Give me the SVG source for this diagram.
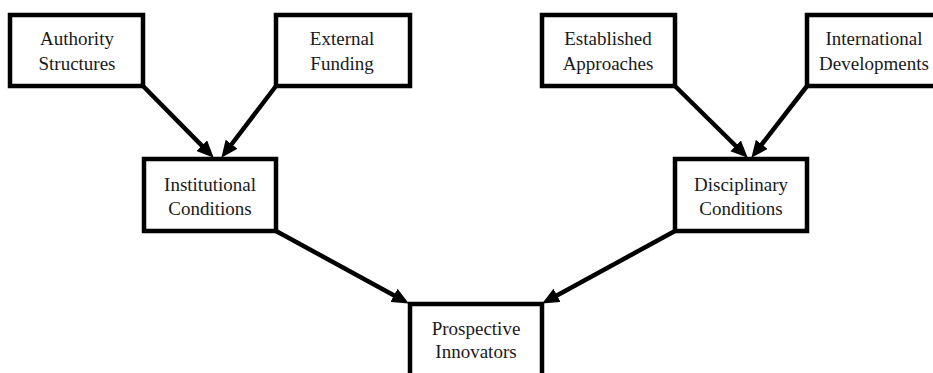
<svg xmlns="http://www.w3.org/2000/svg" width="933" height="373" viewBox="0 0 933 373">
<style>
.box{fill:#fff;stroke:#000;stroke-width:4.5}
.lbl{font-family:"Liberation Serif","Times New Roman",serif;font-size:19px;fill:#1a1a1a;text-anchor:middle}
.edge{stroke:#000;stroke-width:4.5;fill:none;marker-end:url(#ah)}
</style>
<defs>
<marker id="ah" markerUnits="userSpaceOnUse" markerWidth="18" markerHeight="16" refX="6" refY="7.5" orient="auto">
<path d="M0,0 L17,7.5 L0,15 z" fill="#000"/>
</marker>
</defs>
<rect width="933" height="373" fill="#fff"/>
<g id="connectors">
<line class="edge" x1="143" y1="86" x2="206" y2="149.9"/>
<line class="edge" x1="276" y1="86" x2="228" y2="149"/>
<line class="edge" x1="675" y1="86" x2="739.9" y2="150"/>
<line class="edge" x1="807" y1="86" x2="758.1" y2="149.1"/>
<line class="edge" x1="276" y1="231" x2="399.2" y2="298.2"/>
<line class="edge" x1="675" y1="231" x2="551.8" y2="298.2"/>
</g>
<g id="authority">
<rect class="box" x="10" y="15" width="133" height="71"/>
<text class="lbl" x="77" y="45">Authority</text>
<text class="lbl" x="77" y="70">Structures</text>
</g>
<g id="funding">
<rect class="box" x="276" y="15" width="134" height="71"/>
<text class="lbl" x="342" y="45">External</text>
<text class="lbl" x="342" y="70">Funding</text>
</g>
<g id="established">
<rect class="box" x="542" y="15" width="133" height="71"/>
<text class="lbl" x="608" y="45">Established</text>
<text class="lbl" x="608" y="70">Approaches</text>
</g>
<g id="international">
<rect class="box" x="807" y="15" width="134" height="71"/>
<text class="lbl" x="874" y="45">International</text>
<text class="lbl" x="874" y="70">Developments</text>
</g>
<g id="institutional">
<rect class="box" x="144" y="159" width="132" height="72"/>
<text class="lbl" x="210" y="191">Institutional</text>
<text class="lbl" x="210" y="215">Conditions</text>
</g>
<g id="disciplinary">
<rect class="box" x="675" y="159" width="132" height="72"/>
<text class="lbl" x="741" y="191">Disciplinary</text>
<text class="lbl" x="741" y="215">Conditions</text>
</g>
<g id="prospective">
<rect class="box" x="410" y="304" width="132" height="80"/>
<text class="lbl" x="476" y="335">Prospective</text>
<text class="lbl" x="476" y="358">Innovators</text>
</g>
</svg>
